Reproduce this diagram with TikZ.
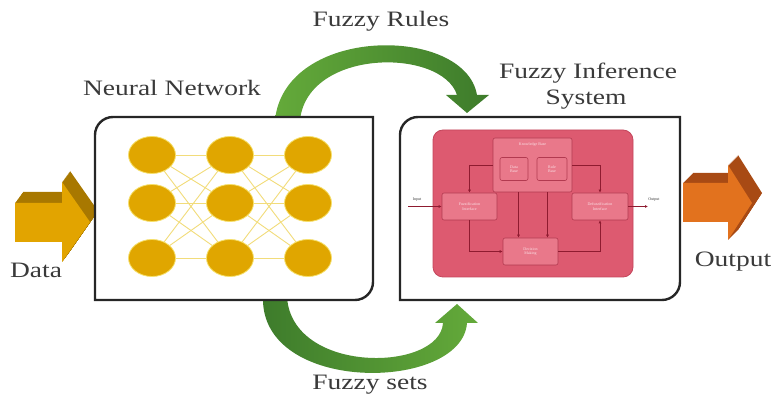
\documentclass[tikz,border=0pt]{standalone}
\usepackage{fontspec}
\setmainfont{Liberation Serif}
\usepackage{graphicx}
\usetikzlibrary{shapes.geometric,arrows.meta}

\definecolor{labelgray}{HTML}{3A3A3A}
\definecolor{neurongold}{HTML}{E0A600}
\definecolor{neuronrim}{HTML}{F6E06A}
\definecolor{linkyellow}{HTML}{F2DC7A}
\definecolor{greenlight}{HTML}{64AA3A}
\definecolor{greendark}{HTML}{3D7B2B}
\definecolor{panelpink}{HTML}{DD5A70}
\definecolor{paneledge}{HTML}{C4465C}
\definecolor{blockpink}{HTML}{E9788A}
\definecolor{blockedge}{HTML}{B23A50}
\definecolor{blocktext}{HTML}{FBE1E6}
\definecolor{fisred}{HTML}{8E1B30}
\definecolor{datagold}{HTML}{E2A400}
\definecolor{datadark}{HTML}{A87800}
\definecolor{outorange}{HTML}{E2721E}
\definecolor{outdark}{HTML}{A84A14}

\pgfdeclarelayer{frames}
\pgfdeclarelayer{links}
\pgfsetlayers{frames,links,main}

\newcommand\widetext[1]{\scalebox{1.25}[1]{#1}}

\tikzset{
  lbl/.style={text=labelgray, font=\fontsize{22}{24}\selectfont, inner sep=0pt},
  neuron/.style={ellipse, fill=neurongold, draw=neuronrim, line width=0.8pt,
    minimum width=47pt, minimum height=37pt, inner sep=0pt},
  link/.style={draw=linkyellow, line width=0.9pt},
  boxframe/.style={draw=black!85, line width=2.4pt, fill=white},
  panel/.style={fill=panelpink, draw=paneledge, line width=0.8pt, rounded corners=10pt,
    inner sep=0pt},
  fisblock/.style={fill=blockpink, draw=blockedge, line width=0.6pt, rounded corners=2pt,
    inner sep=0pt, font=\fontsize{4}{4.5}\selectfont, text=blocktext, align=center},
  fisline/.style={draw=fisred, line width=0.7pt},
  fisarrow/.style={fisline, -{Latex[length=3pt,width=3pt]}},
  fislabel/.style={font=\fontsize{4}{4.5}\selectfont, text=labelgray, inner sep=0pt},
}

\begin{document}
\begin{tikzpicture}[x=1pt,y=-1pt]
\useasboundingbox (0,0) rectangle (772,403);

\begin{pgfonlayer}{frames}
% ---- input block arrow (extruded) ----
\foreach \t in {0,0.05,...,1.01}
  \fill[datadark, shift={(8*\t,-11*\t)}]
    (15,203) -- (62,203) -- (62,182) -- (90,222) -- (62,262) -- (62,242) -- (15,242) -- cycle;
\fill[datagold]
  (15,203) -- (62,203) -- (62,182) -- (90,222) -- (62,262) -- (62,242) -- (15,242) -- cycle;

% ---- output block arrow (extruded) ----
\foreach \t in {0,0.05,...,1.01}
  \fill[outdark, shift={(10*\t,-10*\t)}]
    (683,183) -- (728,183) -- (728,165) -- (752,203) -- (728,240) -- (728,222) -- (683,222) -- cycle;
\fill[outorange]
  (683,183) -- (728,183) -- (728,165) -- (752,203) -- (728,240) -- (728,222) -- (683,222) -- cycle;

% ---- curved green arrows ----
\shade[left color=greenlight, right color=greendark]
  (275,120) .. controls (285,25) and (465,25) .. (477,95)
  -- (489,95) -- (467,113) -- (446,95) -- (457,95)
  .. controls (442,48) and (308,48) .. (300,120) -- cycle;
\shade[left color=greendark, right color=greenlight]
  (263,297) .. controls (260,395) and (462,392) .. (467,323)
  -- (478,323) -- (457,304) -- (435,323) -- (443,323)
  .. controls (440,372) and (292,375) .. (287,297) -- cycle;

% ---- frames ----
\draw[boxframe] (95,300) -- (95,135) arc[start angle=180, end angle=270, radius=18]
  -- (373,117) -- (373,282) arc[start angle=0, end angle=90, radius=18] -- cycle;
\draw[boxframe] (400,300) -- (400,135) arc[start angle=180, end angle=270, radius=18]
  -- (680,117) -- (680,282) arc[start angle=0, end angle=90, radius=18] -- cycle;
\end{pgfonlayer}

% ---- neural network ----
\foreach \c/\x in {1/152,2/230,3/308}
  \foreach \r/\y in {1/155,2/203,3/258}
    \node[neuron] (n\c\r) at (\x,\y) {};
\begin{pgfonlayer}{links}
\foreach \a/\b in {1/2,2/3}
  \foreach \i in {1,2,3}
    \foreach \j in {1,2,3}
      \draw[link] (n\a\i) -- (n\b\j);
\end{pgfonlayer}

% ---- fuzzy inference system ----
\node[panel, minimum width=200pt, minimum height=147pt] (fis) at (533,203.5) {};
\node[fisblock, minimum width=79pt, minimum height=54pt] (kb) at (532.5,165) {};
\node[fislabel, text=blocktext] (kbname) at (532.5,145) {Knowledge Base};
\node[fisblock, minimum width=28pt, minimum height=23pt] (db) at (514,169) {Data\\Base};
\node[fisblock, minimum width=30pt, minimum height=23pt] (rb) at (552,169) {Rule\\Base};
\node[fisblock, minimum width=55pt, minimum height=27pt] (fz) at (469.5,206.5) {Fuzzification\\Interface};
\node[fisblock, minimum width=56pt, minimum height=27pt] (dfz) at (600,206.5) {Defuzzification\\Interface};
\node[fisblock, minimum width=55pt, minimum height=27pt] (dm) at (530.5,251.5) {Decision\\Making};

\coordinate (fisin) at (408,206.5);
\coordinate (fisout) at (648,206.5);
\node[fislabel] (inname) at (417,200) {Input};
\node[fislabel] (outname) at (654,200) {Output};

\draw[fisarrow] (kb.west) -| (fz.north);
\draw[fisarrow] (kb.east) -| (dfz.north);
\draw[fisarrow] ([xshift=-14pt]kb.south) -- ([xshift=-14pt]kb.south |- dm.north);
\draw[fisarrow] ([xshift=15pt]kb.south) -- ([xshift=15pt]kb.south |- dm.north);
\draw[fisarrow] (fz.south) |- (dm.west);
\draw[fisarrow] (dm.east) -| (dfz.south);
\draw[fisarrow] (fisin) -- (fz.west);
\draw[fisarrow] (dfz.east) -- (fisout);

% ---- labels ----
\node[lbl] (rules) at (381,21) {\widetext{Fuzzy Rules}};
\node[lbl] (nn) at (172,88) {\widetext{Neural Network}};
\node[lbl] (fisname1) at (588,73) {\widetext{Fuzzy Inference}};
\node[lbl] (fisname2) at (586,100) {\widetext{System}};
\node[lbl] (data) at (36,270) {\widetext{Data}};
\node[lbl] (output) at (733,262) {\widetext{Output}};
\node[lbl] (sets) at (370,385) {\widetext{Fuzzy sets}};
\end{tikzpicture}
\end{document}
